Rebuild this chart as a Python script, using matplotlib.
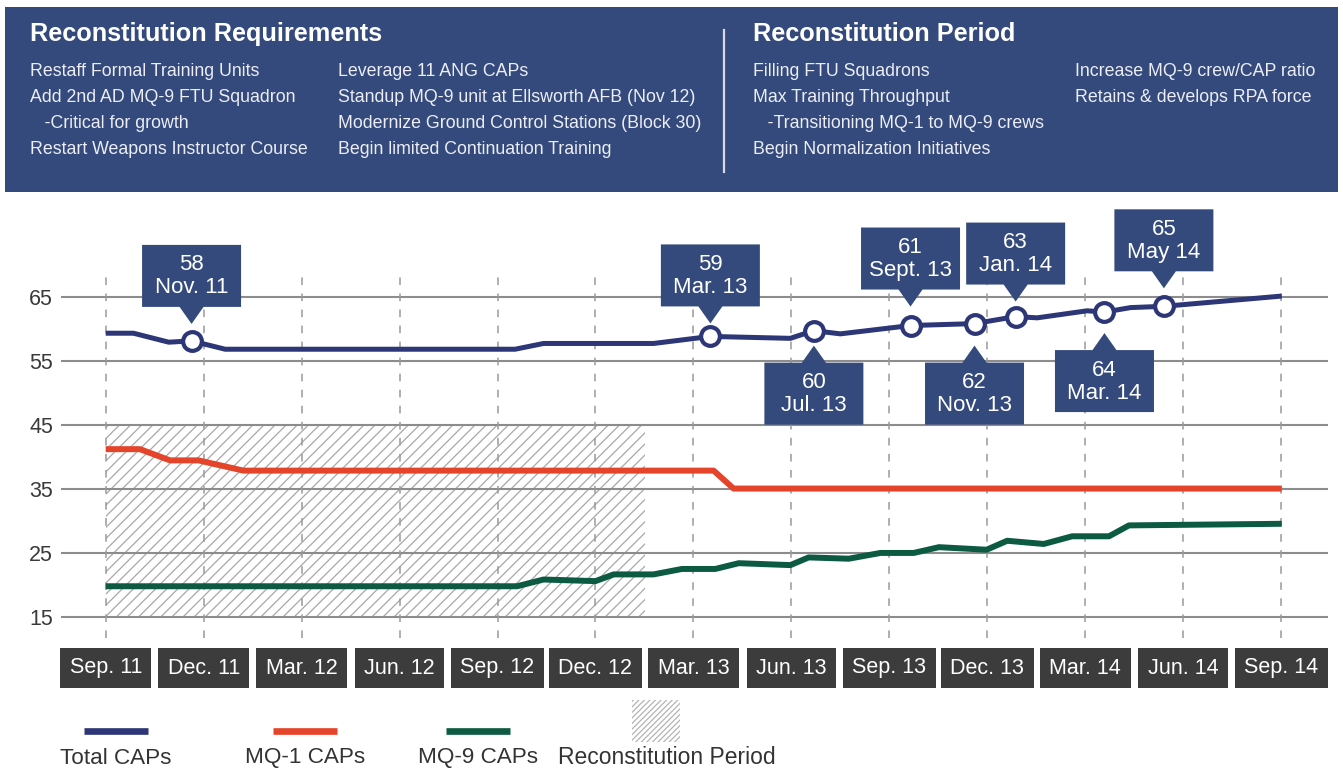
import matplotlib
matplotlib.use("Agg")
import matplotlib.pyplot as plt
from matplotlib.patches import Rectangle, Polygon
from matplotlib.lines import Line2D

plt.rcParams['font.family'] = ['Liberation Sans', 'DejaVu Sans']
plt.rcParams['hatch.linewidth'] = 0.9

# ---------------- data ----------------
# x = months since Sep. 2011
tick_months = [0, 3, 6, 9, 12, 15, 18, 21, 24, 27, 30, 33, 36]
tick_labels = ['Sep. 11', 'Dec. 11', 'Mar. 12', 'Jun. 12', 'Sep. 12', 'Dec. 12', 'Mar. 13',
               'Jun. 13', 'Sep. 13', 'Dec. 13', 'Mar. 14', 'Jun. 14', 'Sep. 14']
y_ticks = [15, 25, 35, 45, 55, 65]

total_x = [0, 0.85, 1.93, 2.63, 3.66, 12.54, 13.41, 16.78, 18.52, 20.97, 21.69, 22.5,
           24.65, 26.61, 27.87, 28.53, 30.06, 30.59, 31.39, 32.41, 36.02]
total_y = [59.3, 59.3, 57.9, 58.1, 56.8, 56.8, 57.7, 57.7, 58.8, 58.5, 59.7, 59.2,
           60.5, 60.8, 61.9, 61.7, 62.8, 62.6, 63.3, 63.5, 65.1]

mq1_x = [0, 1.05, 1.97, 2.84, 4.22, 18.62, 19.23, 36.02]
mq1_y = [41.2, 41.2, 39.45, 39.45, 37.85, 37.85, 35.05, 35.05]

mq9_x = [0, 12.6, 13.41, 15.0, 15.56, 16.78, 17.65, 18.67, 19.39, 20.97, 21.53, 22.76,
         23.73, 24.75, 25.52, 26.98, 27.61, 28.73, 29.6, 30.73, 31.34, 36.02]
mq9_y = [19.8, 19.8, 20.85, 20.6, 21.65, 21.65, 22.5, 22.5, 23.4, 23.1, 24.3, 24.1,
         25.0, 25.0, 25.9, 25.5, 26.9, 26.4, 27.6, 27.6, 29.3, 29.55]

recon_start, recon_end = 0, 16.53
recon_low, recon_high = 15, 45

callout_values = ['58', '59', '60', '61', '62', '63', '64', '65']
callout_dates = ['Nov. 11', 'Mar. 13', 'Jul. 13', 'Sept. 13', 'Nov. 13', 'Jan. 14', 'Mar. 14', 'May 14']
callout_idx = [3, 8, 10, 12, 13, 14, 17, 19]
callout_side = ['up', 'up', 'down', 'up', 'down', 'up', 'down', 'up']

series_names = ['Total CAPs', 'MQ-1 CAPs', 'MQ-9 CAPs']

header_left_title = 'Reconstitution Requirements'
header_left_col1 = ['Restaff Formal Training Units', 'Add 2nd AD MQ-9 FTU Squadron',
                    '   -Critical for growth', 'Restart Weapons Instructor Course']
header_left_col2 = ['Leverage 11 ANG CAPs', 'Standup MQ-9 unit at Ellsworth AFB (Nov 12)',
                    'Modernize Ground Control Stations (Block 30)', 'Begin limited Continuation Training']
header_right_title = 'Reconstitution Period'
header_right_col1 = ['Filling FTU Squadrons', 'Max Training Throughput',
                     '   -Transitioning MQ-1 to MQ-9 crews', 'Begin Normalization Initiatives']
header_right_col2 = ['Increase MQ-9 crew/CAP ratio', 'Retains & develops RPA force']

# ---------------- style ----------------
NAVY = '#2d3677'
RED = '#e4442a'
GREEN = '#0c5a41'
BANNER = '#344a7c'
GRID = '#8c8c8c'
W, H = 1343, 772

fig = plt.figure(figsize=(W / 100, H / 100), dpi=100)
fig.patch.set_facecolor('white')

ax = fig.add_axes([60.5 / W, 1 - 645 / H, (1328 - 60.5) / W, 445 / H], zorder=1)
ax.set_xlim((60.5 - 105.7) / 32.65, (1328 - 105.7) / 32.65)
ax.set_ylim(15 + (617 - 645) / 6.406, 15 + (617 - 200) / 6.406)
ax.patch.set_alpha(0)
for s in ax.spines.values():
    s.set_visible(False)

# reconstitution hatch
ax.add_patch(Rectangle((recon_start, recon_low), recon_end - recon_start, recon_high - recon_low,
                       facecolor='white', edgecolor='#a8a8a8', hatch='///', lw=0, zorder=0.5))

# grid
ax.set_yticks(y_ticks)
ax.yaxis.grid(True, color=GRID, lw=1.5, zorder=1)
ax.set_axisbelow(True)
ax.vlines(tick_months, 15 + (617 - 638) / 6.406, 15 + (617 - 275) / 6.406,
          colors='#9a9a9a', lw=1.1, linestyles=(0, (5, 5.5)), zorder=1.5)

# ticks
ax.set_xticks(tick_months)
ax.set_xticklabels(tick_labels)
ax.tick_params(axis='x', length=0, pad=9, labelsize=15.5, labelcolor='white')
for lbl in ax.get_xticklabels():
    lbl.set_bbox(dict(boxstyle='square,pad=0.44', fc='#3c3c3c', ec='none'))
ax.tick_params(axis='y', length=0, pad=5.3, labelsize=15.5, labelcolor='#3a3a3a')

# series
ax.plot(mq1_x, mq1_y, color=RED, lw=4.3, solid_capstyle='butt', solid_joinstyle='round', zorder=3)
ax.plot(mq9_x, mq9_y, color=GREEN, lw=4.3, solid_capstyle='butt', solid_joinstyle='round', zorder=3)
ax.plot(total_x, total_y, color=NAVY, lw=3.6, solid_capstyle='butt', solid_joinstyle='round', zorder=3)
ax.plot([total_x[i] for i in callout_idx], [total_y[i] for i in callout_idx], 'o',
        ms=13.5, mfc='white', mec=NAVY, mew=3, zorder=4)

# overlay (pixel coordinates, y down)
lax = fig.add_axes([0, 0, 1, 1], zorder=2)
lax.set_xlim(0, W)
lax.set_ylim(H, 0)
lax.axis('off')

# header banner
lax.add_patch(Rectangle((5, 7), 1333, 185, fc=BANNER, ec='none'))
lax.plot([724, 724], [30, 172], color='#d6d9e3', lw=1.6)
lax.text(30, 34, header_left_title, fontsize=18.2, fontweight='bold', color='white', va='center')
lax.text(753, 34, header_right_title, fontsize=18.2, fontweight='bold', color='white', va='center')
row_y = [72, 98, 124, 150]
for col_x, lines in [(30, header_left_col1), (338, header_left_col2),
                     (753, header_right_col1), (1075, header_right_col2)]:
    for yy, t in zip(row_y, lines):
        lax.text(col_x, yy, t, fontsize=12.8, color='#eceef4', va='center')

# callouts
box_w, box_h, tri_h, tri_half = 99, 62, 17, 12
gaps = [34, 30, 32, 36, 39, 32, 38, 35]
inv = lax.transData.inverted()
for val, dt, i, side, gap in zip(callout_values, callout_dates, callout_idx, callout_side, gaps):
    px, py = inv.transform(ax.transData.transform((total_x[i], total_y[i])))
    if side == 'up':
        edge = py - gap
        top = edge - box_h
        tip = edge + tri_h
    else:
        edge = py + gap
        top = edge
        tip = edge - tri_h
    bot = top + box_h
    l, r = px - box_w / 2, px + box_w / 2
    if side == 'up':
        verts = [(l, top), (r, top), (r, bot), (px + tri_half, bot), (px, tip), (px - tri_half, bot), (l, bot)]
    else:
        verts = [(l, top), (px - tri_half, top), (px, tip), (px + tri_half, top), (r, top), (r, bot), (l, bot)]
    lax.add_patch(Polygon(verts, closed=True, fc=BANNER, ec='none'))
    lax.text(px, top + 25.5, val, fontsize=16, color='white', ha='center', va='baseline')
    lax.text(px, top + 48.5, dt, fontsize=16, color='white', ha='center', va='baseline')

# legend
leg_colors = [NAVY, RED, GREEN]
leg_centers = [116, 305, 478]
for name, c, cx in zip(series_names, leg_colors, leg_centers):
    lax.add_line(Line2D([cx - 32, cx + 32], [731, 731], color=c, lw=4.8, solid_capstyle='butt'))
    lax.text(cx, 758, name, fontsize=16.2, color='#333333', ha='center', va='center')
lax.add_patch(Rectangle((632, 700), 48, 42, fc='white', ec='#b4b4b4', hatch='//////', lw=0))
lax.text(558, 758, 'Reconstitution Period', fontsize=16.5, color='#333333', ha='left', va='center')

fig.savefig('out.png', dpi=100, facecolor='white')
